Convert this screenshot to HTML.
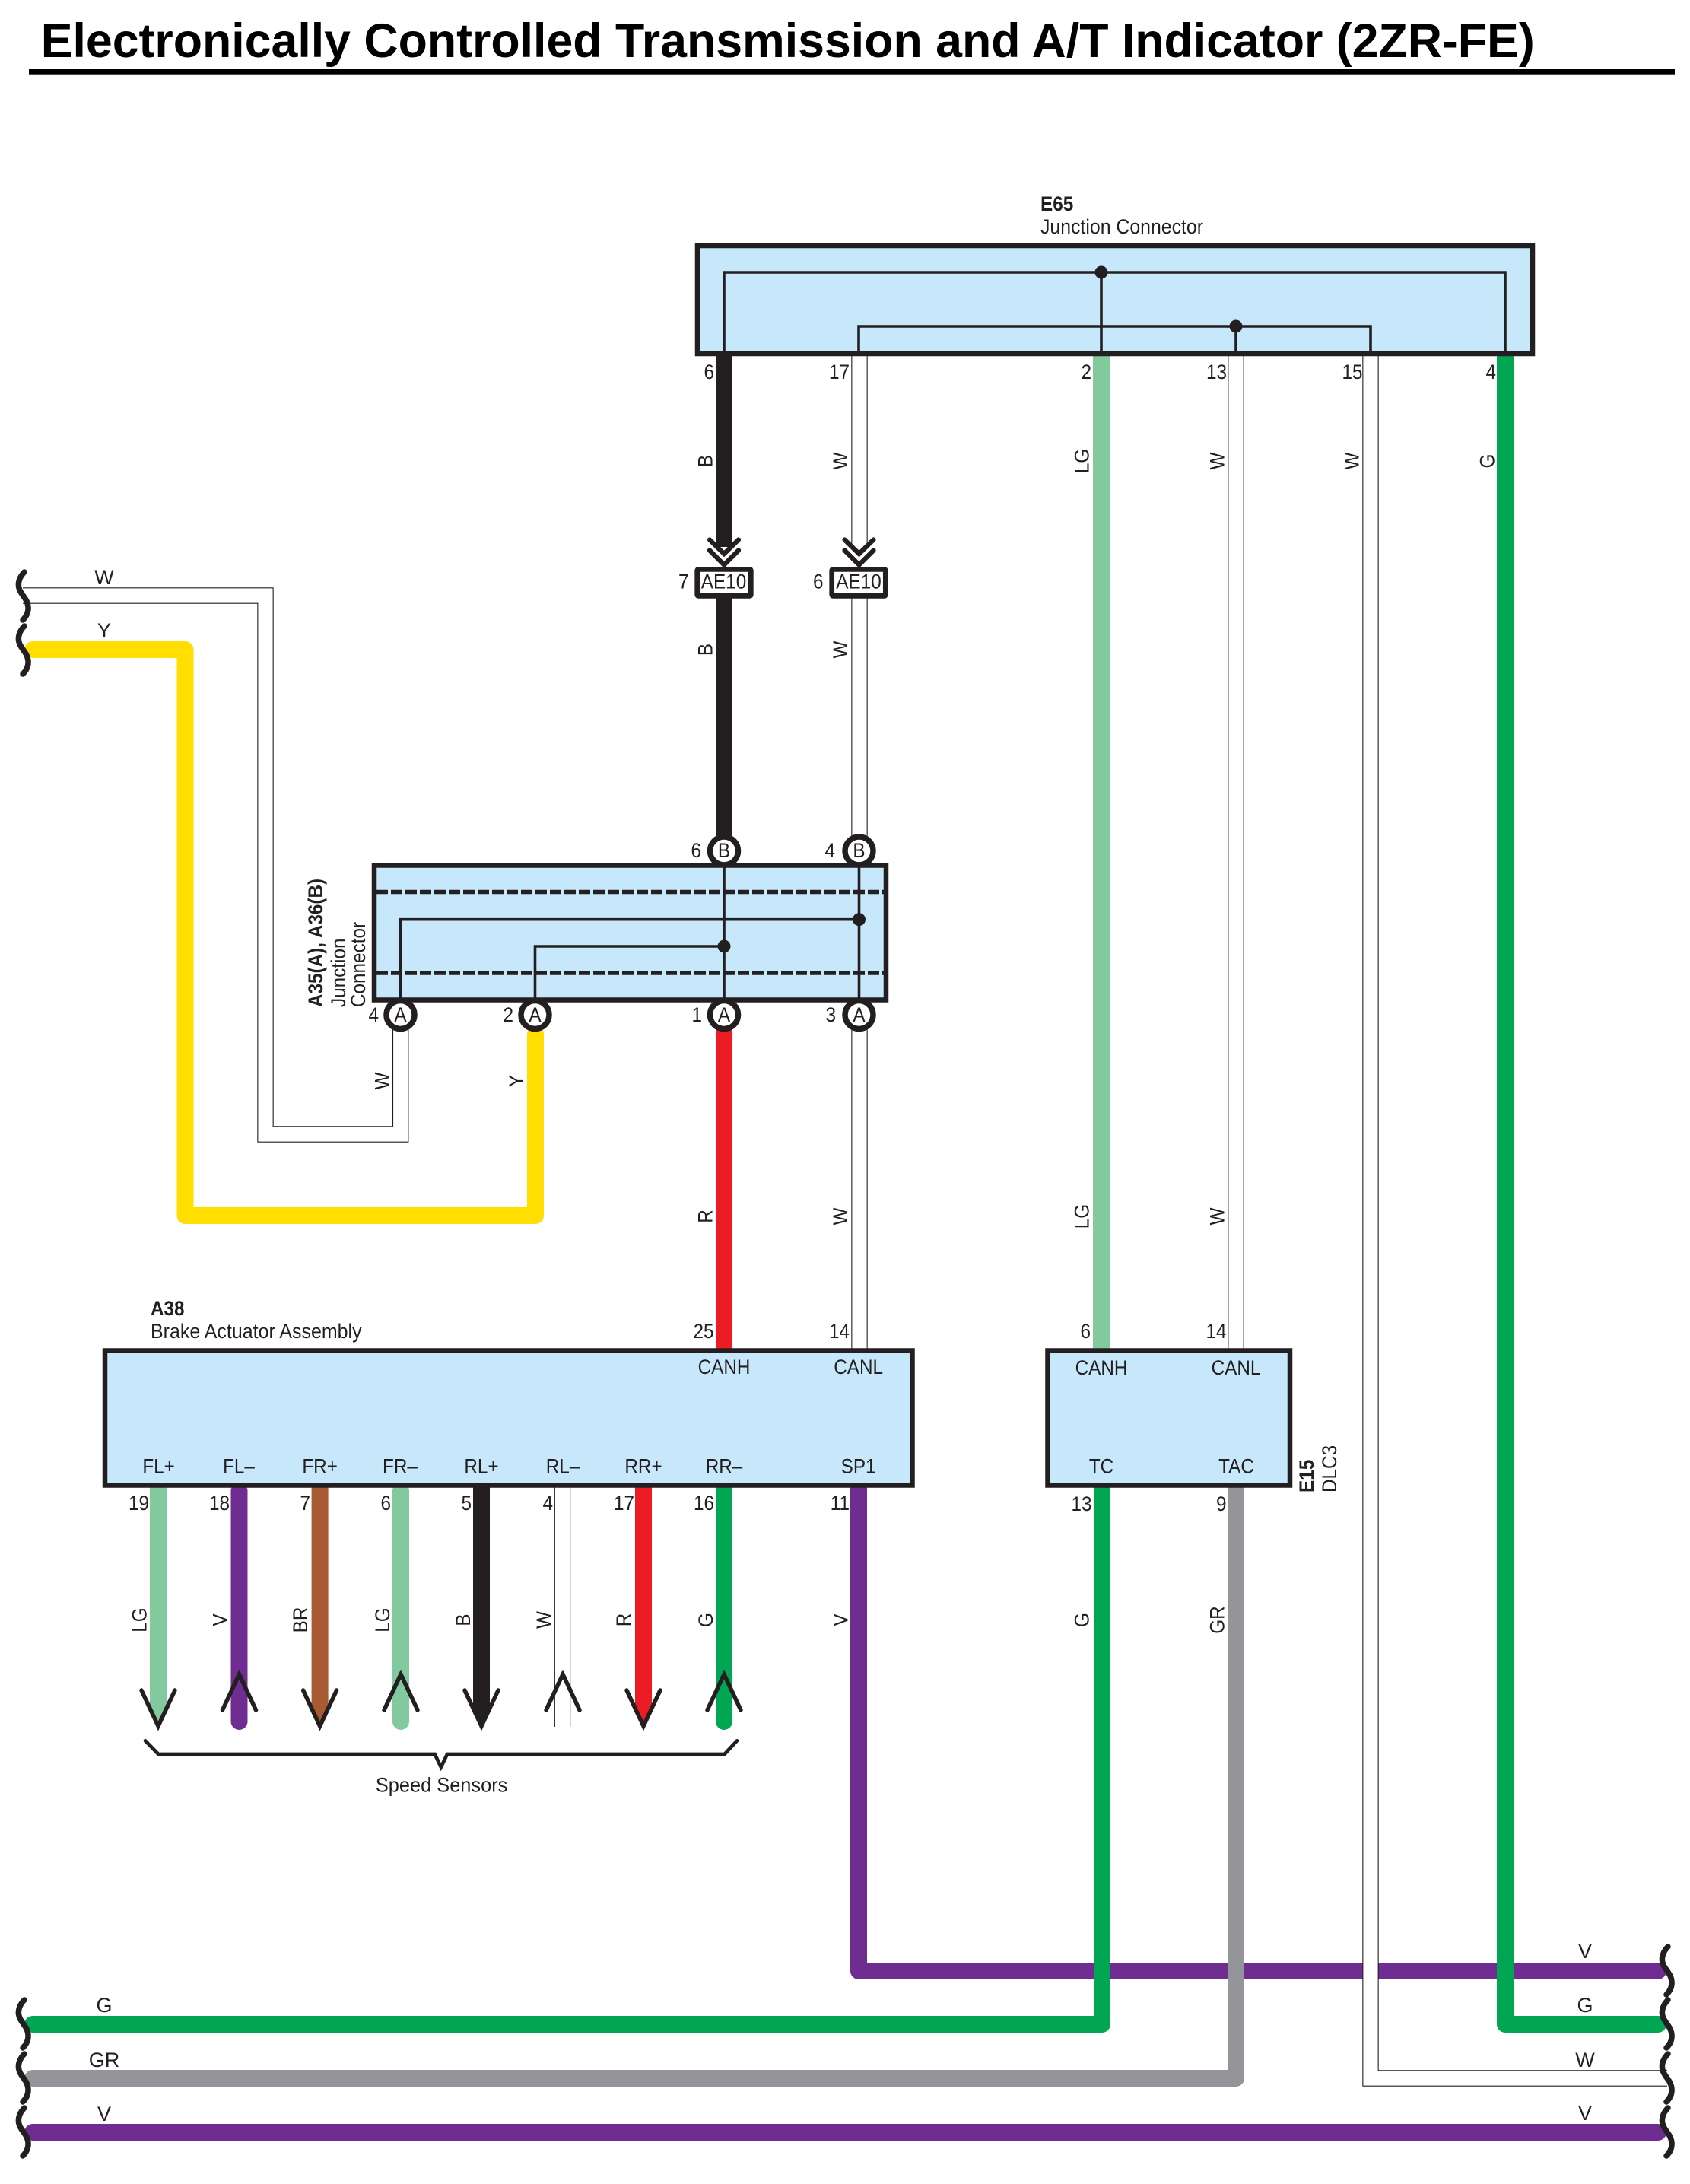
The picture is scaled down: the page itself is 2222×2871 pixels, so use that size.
<!DOCTYPE html>
<html lang="en"><head><meta charset="utf-8"><title>Electronically Controlled Transmission and A/T Indicator (2ZR-FE)</title>
<style>
html,body{margin:0;padding:0;background:#fff}
svg{display:block}
text{font-family:"Liberation Sans",sans-serif;font-size:27px;fill:#231f20}
.m{text-anchor:middle}.e{text-anchor:end}.b{font-weight:bold}
.w{fill:none;stroke-linejoin:round;stroke-width:22}
.wo{fill:none;stroke:#231f20;stroke-width:21.4;stroke-linejoin:miter}
.wi{fill:none;stroke:#fff;stroke-width:19.2;stroke-linejoin:miter}
.box{fill:#c7e8fb;stroke:#231f20;stroke-width:6.5;stroke-linejoin:miter}
.bus{fill:none;stroke:#231f20;stroke-width:3.6}
.ar{fill:none;stroke:#231f20;stroke-width:5.5;stroke-linecap:round;stroke-linejoin:miter}
.cir{fill:#fff;stroke:#231f20;stroke-width:7.5}
.sq{fill:none;stroke:#231f20;stroke-width:7.5;stroke-linecap:round}
</style></head><body>
<svg xmlns="http://www.w3.org/2000/svg" width="2222" height="2871" viewBox="0 0 2222 2871">
<defs><path id="sq" class="sq" d="M32 752C26 758 23 766 25 773C27 782 36 786 37 798C37.5 805 34 811 30 815"/></defs>
<rect width="2222" height="2871" fill="#fff"/>

<text x="53.7" y="75" class="b" style="font-size:63px;fill:#000" textLength="1964" lengthAdjust="spacingAndGlyphs">Electronically Controlled Transmission and A/T Indicator (2ZR-FE)</text>
<rect x="38" y="91" width="2164" height="6.7" fill="#000"/>

<!-- purple SP1 -->
<path class="w" stroke="#6f2c91" stroke-linecap="round" d="M1129 1956V2591H2180"/>
<!-- white 15 -->
<path class="wo" d="M1802 465V2732H2192"/>
<path class="wi" d="M1802 465V2732H2192"/>
<!-- green/grey -->
<path class="w" stroke="#00a651" stroke-linecap="round" d="M43 2661H1449V1960"/>
<path class="w" stroke="#939598" stroke-linecap="round" d="M43 2732H1625V1960"/>
<path class="w" stroke="#6f2c91" stroke-linecap="round" d="M43 2803H2180"/>
<path class="w" stroke="#00a651" stroke-linecap="round" d="M1979 470V2661H2180"/>
<!-- LG -->
<path class="w" stroke="#82c99d" d="M1448 465V1775"/>
<!-- B -->
<path class="w" stroke="#231f20" d="M952 465V719"/>
<path class="w" stroke="#231f20" d="M952 786V1110"/>
<!-- red -->
<path class="w" stroke="#ed1c24" d="M952 1350V1775"/>
<!-- yellow -->
<path class="w" stroke="#ffde00" stroke-linecap="round" d="M43 854H243.5V1598H704V1360"/>
<!-- white wires -->
<path class="wo" d="M1130 465V716M1130 786V1110M1130 1340V1775M1625 465V1775M739.5 1955V2270"/>
<path class="wi" d="M1130 460V716M1130 780V1110M1130 1340V1780M1625 460V1780M739.5 1950V2270"/>
<path class="wo" d="M30 783H349V1491H526.7V1345"/>
<path class="wi" d="M30 783H349V1491H526.7V1345"/>

<!-- speed sensor wires -->
<path fill="#82c99d" d="M197 1950H219V2250L208 2272L197 2250Z"/>
<path fill="#a85a32" d="M409.6 1950H431.6V2250L420.6 2272L409.6 2250Z"/>
<path fill="#231f20" d="M622 1950H644V2250L633 2272L622 2250Z"/>
<path fill="#ed1c24" d="M835 1950H857V2250L846 2272L835 2250Z"/>
<path class="w" stroke="#6f2c91" stroke-linecap="round" d="M314.5 1960V2263"/>
<path class="w" stroke="#82c99d" stroke-linecap="round" d="M527 1960V2263"/>
<path class="w" stroke="#00a651" stroke-linecap="round" d="M952 1960V2263"/>

<!-- E65 -->
<rect class="box" x="917" y="323" width="1098" height="142"/>
<path class="bus" d="M952 465V358H1979V465M1448 358V465M1129 465V429H1802V465M1625 429V465"/>
<circle cx="1448" cy="358" r="8.5" fill="#231f20"/><circle cx="1625" cy="429" r="8.5" fill="#231f20"/>

<!-- chevrons and AE10 -->
<path class="ar" style="stroke-width:6.2" d="M933 709.5L952 728L971 709.5M933 723.5L952 742.5L971 723.5M1110.5 709.5L1129.5 728L1148.5 709.5M1110.5 723.5L1129.5 742.5L1148.5 723.5"/>
<rect x="916.7" y="748.4" width="70.6" height="35" rx="1.5" fill="#fff" stroke="#231f20" stroke-width="6.7"/>
<rect x="1093.7" y="748.4" width="70.6" height="35" rx="1.5" fill="#fff" stroke="#231f20" stroke-width="6.7"/>

<!-- A35/A36 circles -->
<circle class="cir" cx="952" cy="1118.5" r="18.5"/><circle class="cir" cx="1129.5" cy="1118.5" r="18.5"/>
<circle class="cir" cx="526.5" cy="1334" r="18.5"/><circle class="cir" cx="703.5" cy="1334" r="18.5"/>
<circle class="cir" cx="952" cy="1334" r="18.5"/><circle class="cir" cx="1129.5" cy="1334" r="18.5"/>
<!-- A35/A36 -->
<rect class="box" x="492" y="1137.5" width="673" height="177"/>
<path d="M495 1172.5H1162M495 1279H1162" fill="none" stroke="#231f20" stroke-width="5.5" stroke-dasharray="15 4"/>
<path class="bus" d="M526.5 1314V1208.7H1129.5M703.5 1314V1244H952M952 1138V1314M1129.5 1138V1314"/>
<circle cx="1129.5" cy="1208.7" r="8.5" fill="#231f20"/><circle cx="952" cy="1244" r="8.5" fill="#231f20"/>

<!-- A38 -->
<rect class="box" x="138" y="1775.5" width="1061.5" height="177"/>
<!-- DLC3 -->
<rect class="box" x="1377.5" y="1775.5" width="318.5" height="177"/>

<!-- speed sensor arrows -->
<path class="ar" d="M186 2222L208 2269L230 2222M398.6 2222L420.6 2269L442.6 2222M611 2222L633 2269L655 2222M824 2222L846 2269L868 2222"/>
<path class="ar" d="M292.5 2248L314.5 2201L336.5 2248M505 2248L527 2201L549 2248M718 2248L740 2201L762 2248M930 2248L952 2201L974 2248"/>
<path fill="none" stroke="#231f20" stroke-width="4.7" stroke-linecap="round" d="M191 2288.3L208.3 2306H571.7L579.8 2323L588 2306H952.6L969 2288.3"/>

<!-- squiggles -->
<use href="#sq"/><use href="#sq" transform="translate(0,71)"/><use href="#sq" transform="translate(0,1877)"/><use href="#sq" transform="translate(0,1948)"/><use href="#sq" transform="translate(0,2019)"/>
<use href="#sq" transform="translate(2161,1807)"/><use href="#sq" transform="translate(2161,1877)"/><use href="#sq" transform="translate(2161,1948)"/><use href="#sq" transform="translate(2161,2019)"/>

<!-- titles -->
<text class="b" transform="matrix(.9 0 0 1 1368 277)">E65</text>
<text transform="matrix(.92 0 0 1 1368 307)">Junction Connector</text>
<text class="b" transform="matrix(.9 0 0 1 198 1729)">A38</text>
<text transform="matrix(.925 0 0 1 198 1759)">Brake Actuator Assembly</text>
<text class="b" transform="translate(424 1324) rotate(-90) scale(.9 1)">A35(A), A36(B)</text>
<text transform="translate(454 1324) rotate(-90) scale(.9 1)">Junction</text>
<text transform="translate(480 1324) rotate(-90) scale(.9 1)">Connector</text>
<text class="b" transform="translate(1727 1962) rotate(-90) scale(.9 1)">E15</text>
<text transform="translate(1757 1962) rotate(-90) scale(.9 1)">DLC3</text>
<text class="m" transform="matrix(.94 0 0 1 580.6 2355.5)">Speed Sensors</text>

<!-- E65 pins -->
<text class="e" transform="matrix(.9 0 0 1 939 498)">6</text>
<text class="e" transform="matrix(.9 0 0 1 1117 498)">17</text>
<text class="e" transform="matrix(.9 0 0 1 1435 498)">2</text>
<text class="e" transform="matrix(.9 0 0 1 1613 498)">13</text>
<text class="e" transform="matrix(.9 0 0 1 1791.5 498)">15</text>
<text class="e" transform="matrix(.9 0 0 1 1967 498)">4</text>

<!-- AE10 -->
<text class="m" transform="matrix(.9 0 0 1 951.5 773.5)">AE10</text>
<text class="m" transform="matrix(.9 0 0 1 1129 773.5)">AE10</text>
<text class="e" transform="matrix(.9 0 0 1 905.5 773.5)">7</text>
<text class="e" transform="matrix(.9 0 0 1 1082.5 773.5)">6</text>

<!-- circle letters and pins -->
<text class="m" transform="matrix(.9 0 0 1 952 1127)">B</text>
<text class="m" transform="matrix(.9 0 0 1 1129.5 1127)">B</text>
<text class="m" transform="matrix(.9 0 0 1 526.5 1343)">A</text>
<text class="m" transform="matrix(.9 0 0 1 703.5 1343)">A</text>
<text class="m" transform="matrix(.9 0 0 1 952 1343)">A</text>
<text class="m" transform="matrix(.9 0 0 1 1129.5 1343)">A</text>
<text class="e" transform="matrix(.9 0 0 1 922 1127)">6</text>
<text class="e" transform="matrix(.9 0 0 1 1098 1127)">4</text>
<text class="e" transform="matrix(.9 0 0 1 498 1343)">4</text>
<text class="e" transform="matrix(.9 0 0 1 675 1343)">2</text>
<text class="e" transform="matrix(.9 0 0 1 923 1343)">1</text>
<text class="e" transform="matrix(.9 0 0 1 1099 1343)">3</text>

<!-- A38 pins -->
<text class="e" transform="matrix(.9 0 0 1 938.5 1759)">25</text>
<text class="e" transform="matrix(.9 0 0 1 1117 1759)">14</text>
<text class="m" transform="matrix(.9 0 0 1 952 1806)">CANH</text>
<text class="m" transform="matrix(.9 0 0 1 1128.6 1806)">CANL</text>
<text class="m" transform="matrix(.9 0 0 1 208.6 1936.5)">FL+</text>
<text class="m" transform="matrix(.9 0 0 1 314 1936.5)">FL–</text>
<text class="m" transform="matrix(.9 0 0 1 420.6 1936.5)">FR+</text>
<text class="m" transform="matrix(.9 0 0 1 526 1936.5)">FR–</text>
<text class="m" transform="matrix(.9 0 0 1 633 1936.5)">RL+</text>
<text class="m" transform="matrix(.9 0 0 1 740 1936.5)">RL–</text>
<text class="m" transform="matrix(.9 0 0 1 846 1936.5)">RR+</text>
<text class="m" transform="matrix(.9 0 0 1 952 1936.5)">RR–</text>
<text class="m" transform="matrix(.9 0 0 1 1128.6 1936.5)">SP1</text>
<text class="e" transform="matrix(.9 0 0 1 196 1985)">19</text>
<text class="e" transform="matrix(.9 0 0 1 302 1985)">18</text>
<text class="e" transform="matrix(.9 0 0 1 408 1985)">7</text>
<text class="e" transform="matrix(.9 0 0 1 514 1985)">6</text>
<text class="e" transform="matrix(.9 0 0 1 620 1985)">5</text>
<text class="e" transform="matrix(.9 0 0 1 727 1985)">4</text>
<text class="e" transform="matrix(.9 0 0 1 834 1985)">17</text>
<text class="e" transform="matrix(.9 0 0 1 939 1985)">16</text>
<text class="e" transform="matrix(.9 0 0 1 1117 1985)">11</text>

<!-- DLC3 pins -->
<text class="e" transform="matrix(.9 0 0 1 1434 1759)">6</text>
<text class="e" transform="matrix(.9 0 0 1 1612.5 1759)">14</text>
<text class="m" transform="matrix(.9 0 0 1 1448 1807)">CANH</text>
<text class="m" transform="matrix(.9 0 0 1 1625 1807)">CANL</text>
<text class="m" transform="matrix(.9 0 0 1 1448 1936.5)">TC</text>
<text class="m" transform="matrix(.9 0 0 1 1625.5 1936.5)">TAC</text>
<text class="e" transform="matrix(.9 0 0 1 1435.5 1986)">13</text>
<text class="e" transform="matrix(.9 0 0 1 1612.5 1986)">9</text>

<!-- rotated wire labels -->
<text class="m" transform="translate(936.5 606) rotate(-90) scale(.9 1)">B</text>
<text class="m" transform="translate(1114 606) rotate(-90) scale(.9 1)">W</text>
<text class="m" transform="translate(1431.5 606) rotate(-90) scale(.9 1)">LG</text>
<text class="m" transform="translate(1609.5 606) rotate(-90) scale(.9 1)">W</text>
<text class="m" transform="translate(1786.5 606) rotate(-90) scale(.9 1)">W</text>
<text class="m" transform="translate(1964.5 606) rotate(-90) scale(.9 1)">G</text>
<text class="m" transform="translate(936.5 854) rotate(-90) scale(.9 1)">B</text>
<text class="m" transform="translate(1114 854) rotate(-90) scale(.9 1)">W</text>
<text class="m" transform="translate(511.5 1421) rotate(-90) scale(.9 1)">W</text>
<text class="m" transform="translate(688 1421) rotate(-90) scale(.9 1)">Y</text>
<text class="m" transform="translate(936.5 1599) rotate(-90) scale(.9 1)">R</text>
<text class="m" transform="translate(1114 1599) rotate(-90) scale(.9 1)">W</text>
<text class="m" transform="translate(1431.5 1599) rotate(-90) scale(.9 1)">LG</text>
<text class="m" transform="translate(1609.5 1599) rotate(-90) scale(.9 1)">W</text>
<text class="m" transform="translate(192.5 2129.5) rotate(-90) scale(.9 1)">LG</text>
<text class="m" transform="translate(298.5 2129.5) rotate(-90) scale(.9 1)">V</text>
<text class="m" transform="translate(404 2129.5) rotate(-90) scale(.9 1)">BR</text>
<text class="m" transform="translate(512 2129.5) rotate(-90) scale(.9 1)">LG</text>
<text class="m" transform="translate(618 2129.5) rotate(-90) scale(.9 1)">B</text>
<text class="m" transform="translate(724 2129.5) rotate(-90) scale(.9 1)">W</text>
<text class="m" transform="translate(829 2129.5) rotate(-90) scale(.9 1)">R</text>
<text class="m" transform="translate(937 2129.5) rotate(-90) scale(.9 1)">G</text>
<text class="m" transform="translate(1114.5 2129.5) rotate(-90) scale(.9 1)">V</text>
<text class="m" transform="translate(1431.5 2129.5) rotate(-90) scale(.9 1)">G</text>
<text class="m" transform="translate(1609.5 2129.5) rotate(-90) scale(.9 1)">GR</text>

<!-- horizontal wire labels -->
<text class="m" x="137" y="768">W</text>
<text class="m" x="137" y="838">Y</text>
<text class="m" x="137" y="2645">G</text>
<text class="m" x="137" y="2717">GR</text>
<text class="m" x="137" y="2788">V</text>
<text class="m" x="2084" y="2574">V</text>
<text class="m" x="2084" y="2645">G</text>
<text class="m" x="2084" y="2717">W</text>
<text class="m" x="2084" y="2787">V</text>
</svg>
</body></html>
